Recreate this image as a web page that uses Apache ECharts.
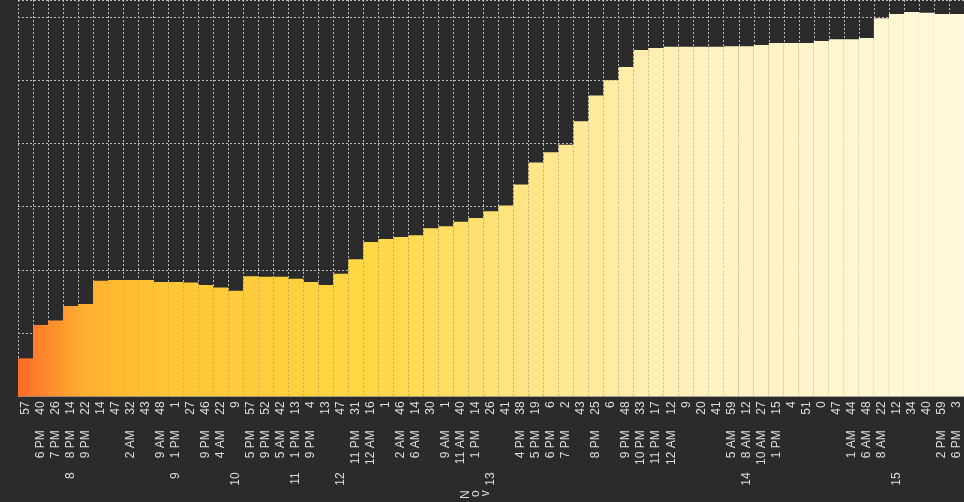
<!DOCTYPE html><html><head><meta charset="utf-8"><script src="https://cdn.jsdelivr.net/npm/echarts@6/dist/echarts.min.js"></script>
<style>html,body{margin:0;background:#2b2b2b}#c{width:964px;height:502px}</style></head><body><div id="c"></div><script>
const minutes=['57','40','26','14','22','14','47','32','43','48','1','27','46','22','9','57','52','42','13','4','13','47','31','16','1','46','14','30','1','40','14','26','41','38','19','6','2','43','25','6','48','33','17','12','9','20','41','59','12','27','15','4','51','0','47','44','48','22','12','34','40','59','3'];
const hours=['','6 PM','7 PM','8 PM','9 PM','','','2 AM','','9 AM','1 PM','','9 PM','4 AM','','5 PM','9 PM','5 AM','1 PM','9 PM','','','11 PM','12 AM','','2 AM','6 AM','','9 AM','11 AM','1 PM','','','4 PM','5 PM','6 PM','7 PM','','8 PM','','9 PM','10 PM','11 PM','12 AM','','','','5 AM','8 AM','10 AM','1 PM','','','','','1 AM','6 AM','8 AM','','','','2 PM','6 PM'];
const dayLabels={3:'8',10:'9',14:'10',18:'11',21:'12',31:'13',48:'14',58:'15'};
const monthLabels={30:'Nov'};
const values=[0.6,1.13,1.2,1.43,1.46,1.83,1.84,1.84,1.84,1.81,1.81,1.8,1.76,1.72,1.67,1.9,1.89,1.89,1.86,1.81,1.76,1.94,2.17,2.44,2.49,2.52,2.55,2.66,2.69,2.76,2.82,2.93,3.02,3.35,3.7,3.86,3.98,4.35,4.76,5.0,5.21,5.48,5.51,5.53,5.53,5.53,5.53,5.54,5.54,5.56,5.59,5.59,5.59,5.62,5.65,5.65,5.67,5.98,6.05,6.08,6.07,6.05,6.05];
const days=minutes.map((_,i)=>dayLabels[i]||'');
const months=minutes.map((_,i)=>monthLabels[i]?monthLabels[i].split('').join('\n'):'');
const lab={color:'#ddd',fontSize:12,rotate:90,interval:0,fontFamily:'Arial, Liberation Sans'};
const hidden={show:false};
const chart=echarts.init(document.getElementById('c'));
chart.setOption({backgroundColor:'#2b2b2b',animation:false,
grid:{left:18,right:0,top:0,bottom:104},
xAxis:[
{type:'category',data:minutes,axisLabel:{...lab,margin:5},axisLine:{lineStyle:{color:'#888'}},axisTick:{lineStyle:{color:'#888'}},splitLine:{show:true,interval:0,lineStyle:{color:'#bbb',type:[2,2],width:1}}},
{type:'category',data:hours,position:'bottom',offset:32,axisLabel:{...lab,margin:2},axisLine:hidden,axisTick:hidden},
{type:'category',data:days,position:'bottom',offset:74,axisLabel:{...lab,margin:2},axisLine:hidden,axisTick:hidden},
{type:'category',data:months,position:'bottom',offset:92,axisLabel:{...lab,margin:2,lineHeight:10},axisLine:hidden,axisTick:hidden}],
yAxis:{type:'value',min:0,max:6.27,interval:1,axisLabel:hidden,axisLine:hidden,axisTick:hidden,splitLine:{lineStyle:{color:'#bbb',type:[2,2]}}},
series:[{type:'bar',data:values,barCategoryGap:0,itemStyle:{color:new echarts.graphic.LinearGradient(18,0,964,0,[
{offset:0,color:'#ff6a2a'},{offset:0.07,color:'#ffb030'},{offset:0.15,color:'#ffc535'},{offset:0.38,color:'#ffd845'},{offset:0.55,color:'#ffe68a'},{offset:0.72,color:'#fff2c0'},{offset:1,color:'#fff8dc'}],true)}}]
});
</script></body></html>
